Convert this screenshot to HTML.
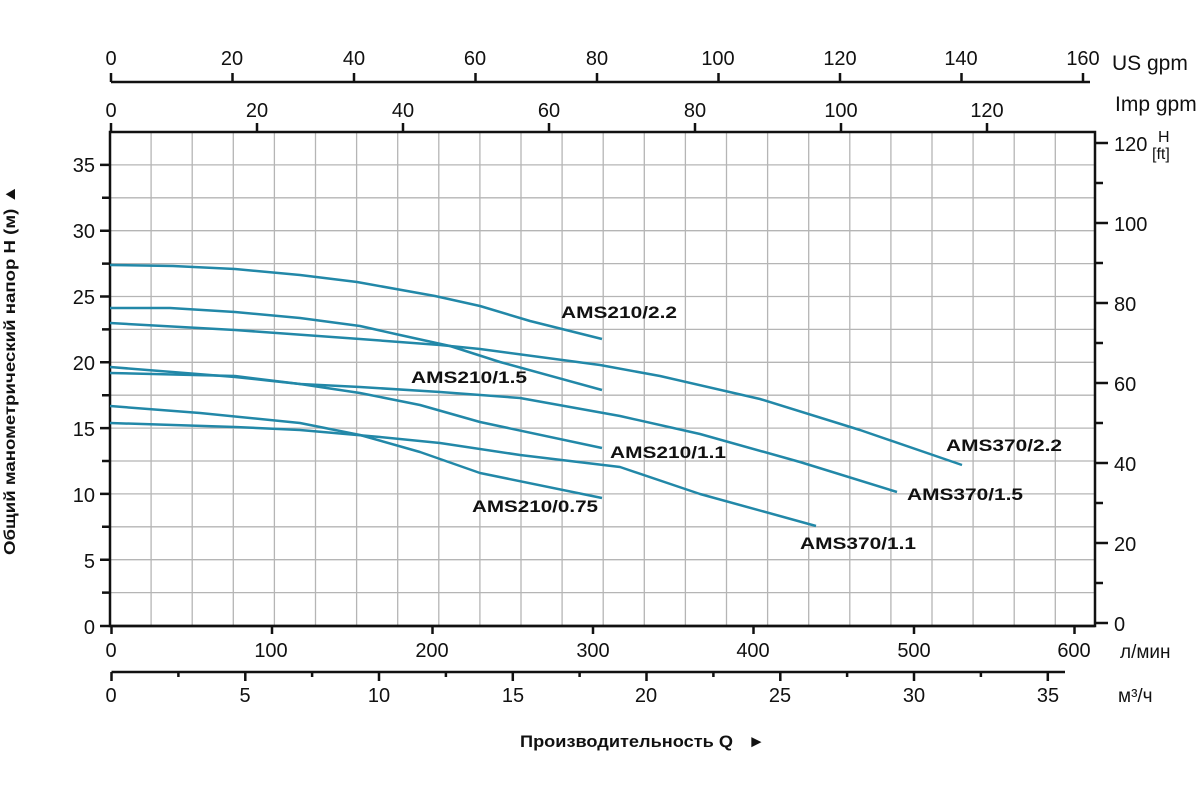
<!DOCTYPE html>
<html><head><meta charset="utf-8"><style>
body{margin:0;background:#fff;}
svg{display:block;font-family:"Liberation Sans",Arial,sans-serif;}
</style></head><body>
<svg width="1200" height="800" viewBox="0 0 1200 800">
<g stroke="#b5b5b5" stroke-width="1.3">
<path d="M151.1 132V626M192.2 132V626M233.3 132V626M274.4 132V626M315.5 132V626M356.6 132V626M397.7 132V626M438.8 132V626M479.9 132V626M521 132V626M562.1 132V626M603.2 132V626M644.3 132V626M685.4 132V626M726.5 132V626M767.6 132V626M808.7 132V626M849.8 132V626M890.9 132V626M932 132V626M973.1 132V626M1014.2 132V626M1055.3 132V626"/>
<path d="M110 164.9H1095M110 197.8H1095M110 230.7H1095M110 263.6H1095M110 296.5H1095M110 329.4H1095M110 362.3H1095M110 395.2H1095M110 428.1H1095M110 461H1095M110 493.9H1095M110 526.8H1095M110 559.7H1095M110 592.6H1095"/>
</g>
<g stroke="#111" stroke-width="2.5" fill="none">
<path d="M110 132H1095V626H110Z"/>
<path d="M100 626H1095"/>
<path d="M100 164.9H110M102 197.8H110M100 230.7H110M102 263.6H110M100 296.5H110M102 329.4H110M100 362.3H110M102 395.2H110M100 428.1H110M102 461H110M100 493.9H110M102 526.8H110M100 559.7H110M102 592.6H110"/>
<path d="M1095 143H1108M1095 183H1103M1095 223H1108M1095 263H1103M1095 303H1108M1095 343H1103M1095 383H1108M1095 423H1103M1095 463H1108M1095 503H1103M1095 543H1108M1095 583H1103M1095 623H1108"/>
<path d="M111.5 626V634M272 626V634M432.5 626V634M593 626V634M753.5 626V634M914 626V634M1074.5 626V634"/>
<path d="M111.5 672H1065"/>
<path d="M111.5 672V681M245.3 672V681M379 672V681M512.8 672V681M646.5 672V681M780.3 672V681M914 672V681M1047.8 672V681"/>
<path d="M178.4 672V677M312.1 672V677M445.9 672V677M579.6 672V677M713.4 672V677M847.1 672V677M980.9 672V677"/>
<path d="M111 82H1090"/>
<path d="M111 82V73M232.5 82V73M354 82V73M475.5 82V73M597 82V73M718.5 82V73M840 82V73M961.5 82V73M1083 82V73"/>
<path d="M111 132V123M257 132V123M403 132V123M549 132V123M695 132V123M841 132V123M987 132V123"/>
</g>
<g font-size="20" fill="#111">
<g text-anchor="end">
<text x="95" y="172">35</text><text x="95" y="238">30</text><text x="95" y="304">25</text><text x="95" y="370">20</text><text x="95" y="436">15</text><text x="95" y="502">10</text><text x="95" y="568">5</text><text x="95" y="634">0</text>
</g>
<text x="1114" y="151">120</text><text x="1114" y="231">100</text><text x="1114" y="311">80</text><text x="1114" y="391">60</text><text x="1114" y="471">40</text><text x="1114" y="551">20</text><text x="1114" y="631">0</text>
<text x="1158" y="142" font-size="16">H</text><text x="1152" y="159" font-size="16">[ft]</text>
<g text-anchor="middle">
<text x="111" y="657">0</text><text x="271" y="657">100</text><text x="432" y="657">200</text><text x="593" y="657">300</text><text x="753" y="657">400</text><text x="914" y="657">500</text><text x="1074" y="657">600</text>
<text x="111" y="702">0</text><text x="245" y="702">5</text><text x="379" y="702">10</text><text x="513" y="702">15</text><text x="646" y="702">20</text><text x="780" y="702">25</text><text x="914" y="702">30</text><text x="1048" y="702">35</text>
<text x="111" y="65">0</text><text x="232" y="65">20</text><text x="354" y="65">40</text><text x="475" y="65">60</text><text x="597" y="65">80</text><text x="718" y="65">100</text><text x="840" y="65">120</text><text x="961" y="65">140</text><text x="1083" y="65">160</text>
<text x="111" y="117">0</text><text x="257" y="117">20</text><text x="403" y="117">40</text><text x="549" y="117">60</text><text x="695" y="117">80</text><text x="841" y="117">100</text><text x="987" y="117">120</text>
</g>
<text x="1112" y="70" font-size="21">US gpm</text>
<text x="1115" y="111" font-size="21">Imp gpm</text>
<text x="1120" y="658" font-size="19">л/мин</text>
<text x="1118" y="702" font-size="19">м³/ч</text>
</g>
<g fill="none" stroke="#2288a8" stroke-width="2.5" stroke-linejoin="round">
<polyline points="110,265 173,266 235,269 300,275 357,282 435,296 480,306 530,321 602,339"/>
<polyline points="110,308 170,308 235,312 300,318 360,326 400,335 450,346 500,362 602,390"/>
<polyline points="110,323 235,330 360,339 440,345 480,349 600,365 660,376 760,399 860,430 962,465"/>
<polyline points="110,367 235,377 300,384 360,393 420,405 480,422 602,448"/>
<polyline points="110,373 235,376 300,384 360,387 440,392 520,398 620,416 700,434 800,462 897,492"/>
<polyline points="110,406 200,413 300,423 360,435 420,452 480,473 602,498"/>
<polyline points="110,423 235,427 300,430 380,437 440,443 520,455 620,467 700,494 816,526"/>
</g>
<g font-size="17" font-weight="bold" fill="#111">
<text x="561" y="318" textLength="116" lengthAdjust="spacingAndGlyphs">AMS210/2.2</text>
<text x="411" y="383" textLength="116" lengthAdjust="spacingAndGlyphs">AMS210/1.5</text>
<text x="610" y="458" textLength="116" lengthAdjust="spacingAndGlyphs">AMS210/1.1</text>
<text x="472" y="512" textLength="126" lengthAdjust="spacingAndGlyphs">AMS210/0.75</text>
<text x="946" y="451" textLength="116" lengthAdjust="spacingAndGlyphs">AMS370/2.2</text>
<text x="907" y="500" textLength="116" lengthAdjust="spacingAndGlyphs">AMS370/1.5</text>
<text x="800" y="549" textLength="116" lengthAdjust="spacingAndGlyphs">AMS370/1.1</text>
<text x="520" y="747" font-size="17" textLength="213" lengthAdjust="spacingAndGlyphs">Производительность Q</text>
<text x="748" y="747" font-size="17">►</text>
<text transform="translate(15,370) rotate(-90)" text-anchor="middle" font-size="16" textLength="370" lengthAdjust="spacingAndGlyphs">Общий манометрический напор H (м)  ▲</text>
</g>
</svg>
</body></html>
